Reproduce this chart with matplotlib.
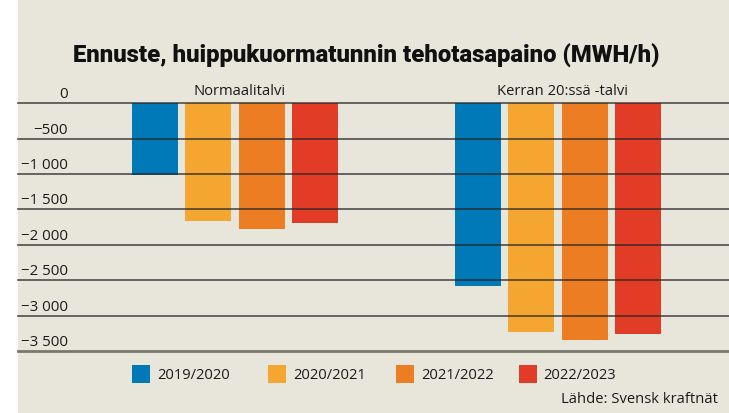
import matplotlib
matplotlib.use('Agg')
import matplotlib.pyplot as plt
import matplotlib.transforms as mtransforms
from matplotlib.patches import Rectangle
import numpy as np

# ---------------- data ----------------
groups = ['Normaalitalvi', 'Kerran 20:ssä -talvi']
seasons = ['2019/2020', '2020/2021', '2021/2022', '2022/2023']
normaalitalvi = [-1020, -1660, -1770, -1685]
kerran20 = [-2575, -3225, -3340, -3265]
yticks = [0, -500, -1000, -1500, -2000, -2500, -3000, -3500]
ytick_labels = ['0', '−500', '−1 000', '−1 500', '−2 000', '−2 500', '−3 000', '−3 500']
title = 'Ennuste, huippukuormatunnin tehotasapaino (MWH/h)'
source = 'Lähde: Svensk kraftnät'

# ---------------- style ----------------
colors = ['#0079B8', '#F5A631', '#EC7D23', '#E23B26']
BG = '#E8E6DB'
W, H = 729, 414
txt_font = ['Open Sans', 'DejaVu Sans']
title_font = ['Roboto', 'DejaVu Sans']

fig = plt.figure(figsize=(W / 100, H / 100), dpi=100)
fig.patch.set_facecolor('white')
fig.patches.append(Rectangle((18 / W, 0), 1 - 18 / W, 1, transform=fig.transFigure,
                             facecolor=BG, edgecolor='none', zorder=-10))

y0_px, y1_px = 104.3, 352.0
ax = fig.add_axes([18 / W, 1 - y1_px / H, 1 - 18 / W, (y1_px - y0_px) / H])
ax.set_facecolor('none')
ax.set_ylim(-3500, 0)
ax.set_xlim(-4.07, 9.27)
ax.axis('off')

group_pos = np.array([0.0, 6.06])
series = np.array([normaalitalvi, kerran20])  # shape groups x seasons
for i, s in enumerate(seasons):
    ax.bar(group_pos + (i - 1.5), series[:, i], width=0.865, color=colors[i],
           zorder=2, linewidth=0)

# gridlines
for y in yticks:
    if y == -3500:
        ax.axhline(y, color='#7a776d', lw=2.0, zorder=3, clip_on=False)
    else:
        ax.axhline(y, color='#262626', lw=1.2, alpha=0.8, zorder=3, clip_on=False)

# tick labels
ytrans = mtransforms.offset_copy(ax.get_yaxis_transform(), fig=fig, x=0, y=6, units='dots')
for y, lab in zip(yticks, ytick_labels):
    ax.text((68 - 18) / 711, y, lab, transform=ytrans, ha='right', va='baseline',
            fontsize=10.8, family=txt_font, color='#1a1a1a')

# group labels
gtrans = mtransforms.offset_copy(ax.transData, fig=fig, x=0, y=9, units='dots')
for gp, g in zip(group_pos, groups):
    ax.text(gp + 0.08, 0, g, transform=gtrans, ha='center', va='baseline',
            fontsize=10.6, family=txt_font, color='#1a1a1a')

# title
fig.text(366 / W, 1 - 56 / H, title, ha='center', va='center', fontsize=17.2,
         fontweight='heavy', family=title_font, color='#111111')

# legend (manual)
sq_x = [132, 268, 396, 518.5]
for i, s in enumerate(seasons):
    fig.patches.append(Rectangle((sq_x[i] / W, 1 - 384 / H), 18 / W, 18 / H,
                                 transform=fig.transFigure, facecolor=colors[i],
                                 edgecolor='none'))
    fig.text((sq_x[i] + 25) / W, 1 - 376 / H, s, ha='left', va='center',
             fontsize=10.6, family=txt_font, color='#1a1a1a')

fig.text(718 / W, 1 - 400 / H, source, ha='right', va='center', fontsize=10.6,
         family=txt_font, color='#1a1a1a')

fig.savefig('out.png', dpi=100, facecolor=fig.get_facecolor())
